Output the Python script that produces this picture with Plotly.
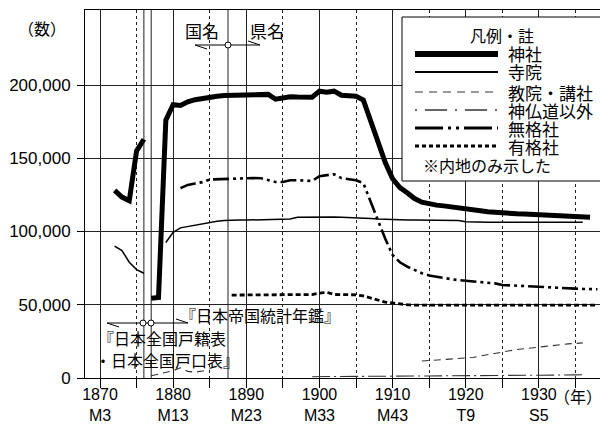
import plotly.graph_objects as go

# ---------------- data ----------------
jinja_years_a = [1872, 1873, 1874, 1875, 1876]
jinja_a = [128000, 123500, 121000, 155000, 163000]

jinja_years_b = list(range(1877, 1938))
jinja_b = [54500, 55000, 176000, 186500, 186000, 188500, 190000, 191000, 191700, 192300,
           192800, 193000, 193300, 193600, 193700, 193800, 193600, 190300, 191500, 192000,
           191800, 191700, 191700, 195800, 195000, 195800, 193000, 192700, 192300, 189800,
           176000, 161000, 147000, 136000, 130000, 126500, 122500, 120000, 118800, 118000,
           117500, 117000, 116500, 116000, 115000, 114200, 113500, 113000, 112600, 112300,
           112100, 111900, 111700, 111500, 111200, 110900, 110600, 110300, 110100, 109900,
           109700]

jiin_years_a = [1872, 1873, 1874, 1875, 1876]
jiin_a = [90000, 87000, 79000, 74000, 71500]

jiin_years_b = list(range(1879, 1937))
jiin_b = [92500, 99500, 102500, 103500, 104000, 105000, 106300, 107000, 107500, 107800,
          107800, 107800, 107900, 108000, 108100, 108200, 108300, 108500, 109800, 109900,
          109900, 109900, 109900, 109900, 109800, 109700, 109600, 109300, 108900, 108600,
          108300, 108100, 107900, 107900, 107800, 107800, 107800, 107700, 107700, 107700,
          107500, 106600, 106400, 106400, 106400, 106400, 106400, 106400, 106400, 106400,
          106400, 106400, 106400, 106400, 106400, 106400, 106400, 106400]

kyoin_years_a = [1877, 1878, 1879, 1880, 1881, 1882, 1883, 1884, 1885]
kyoin_a = [1500, 2500, 3500, 5000, 7000, 4500, 4000, 4800, 5500]

kyoin_years_b = list(range(1914, 1937))
kyoin_b = [11600, 12000, 12300, 12600, 12900, 13200, 13600, 14000, 15000, 16000,
           17000, 17800, 18600, 19400, 20000, 20800, 21400, 22000, 22500, 23000,
           23300, 23600, 24000]

other_years = [1899, 1905, 1910, 1915, 1920, 1925, 1930, 1935, 1936]
other_vals = [900, 1000, 1200, 1400, 1500, 1700, 1900, 2100, 2200]

mukaku_years = list(range(1881, 1939))
mukaku = [129600, 131800, 132800, 133700, 135500, 135700, 136000, 136400, 136500, 136500,
          136500, 136400, 135000, 133800, 133800, 135000, 135000, 134700, 134500, 137800,
          138300, 139100, 136500, 135800, 135000, 133000, 120000, 107500, 95000, 84000,
          79000, 76000, 73500, 71500, 70000, 69000, 68200, 67500, 66800, 66300,
          65800, 65400, 65000, 64600, 63500, 63200, 62900, 62600, 62300, 62000,
          61800, 61600, 61400, 61200, 61000, 60800, 60700, 60600]

yukaku_years = list(range(1888, 1939))
yukaku = [56600, 56600, 56600, 56600, 56600, 56700, 56700, 56700, 56800, 56800,
          56900, 57000, 58000, 58500, 57000, 56800, 56800, 56800, 56000, 54500,
          52800, 51800, 51200, 50500, 50000, 49800, 49800, 49800, 49800, 49800,
          49800, 49800, 49800, 49800, 49800, 49800, 49800, 49800, 49800, 49800,
          49800, 49800, 49800, 49800, 49800, 49800, 49800, 49800, 49800, 49800,
          49800]

x_tickvals = [1870, 1880, 1890, 1900, 1910, 1920, 1930]
x_ticktext = ["1870<br>M3", "1880<br>M13", "1890<br>M23", "1900<br>M33",
              "1910<br>M43", "1920<br>T9", "1930<br>S5"]
y_tickvals = [0, 50000, 100000, 150000, 200000]
y_ticktext = ["0", "50,000", "100,000", "150,000", "200,000"]

legend_labels = ["神社", "寺院", "教院・講社", "神仏道以外", "無格社", "有格社"]

# ---------------- figure ----------------
# page has an 8px body margin: figure occupies screen (8..608, 8..430)
W, H = 600, 422
L, R, T, B = 77, 0, 2, 52
PW, PH = W - L - R, H - T - B
SX0, SY1 = 85, 378  # screen px of plot left / bottom


def px(x):
    return (x - SX0) / PW


def py(y):
    return (SY1 - y) / PH


JP = "Noto Sans CJK JP"
NUM = "Liberation Sans, Arial, " + JP


def seg(xa, ya, xb, yb):
    return list(xa) + [None] + list(xb), list(ya) + [None] + list(yb)


fig = go.Figure()

x, y = seg(jiin_years_a, jiin_a, jiin_years_b, jiin_b)
fig.add_trace(go.Scatter(x=x, y=y, mode="lines", line=dict(color="black", width=1.5),
                         connectgaps=False, showlegend=False))
x, y = seg(kyoin_years_a, kyoin_a, kyoin_years_b, kyoin_b)
fig.add_trace(go.Scatter(x=x, y=y, mode="lines", line=dict(color="#333", width=1.1, dash="7px,5px"),
                         connectgaps=False, showlegend=False))
fig.add_trace(go.Scatter(x=other_years, y=other_vals, mode="lines",
                         line=dict(color="#333", width=1.1, dash="18px,4px,2px,4px"), showlegend=False))
fig.add_trace(go.Scatter(x=yukaku_years, y=yukaku, mode="lines",
                         line=dict(color="black", width=2.8, dash="5px,3px"), showlegend=False))
fig.add_trace(go.Scatter(x=mukaku_years, y=mukaku, mode="lines",
                         line=dict(color="black", width=2.6, dash="16px,4px,3px,4px,3px,4px"), showlegend=False))
x, y = seg(jinja_years_a, jinja_a, jinja_years_b, jinja_b)
fig.add_trace(go.Scatter(x=x, y=y, mode="lines", line=dict(color="black", width=5),
                         connectgaps=False, showlegend=False))

shapes = []
# source boundary vertical lines
for xv in [1876, 1877, 1887.5]:
    shapes.append(dict(type="line", xref="x", yref="paper", x0=xv, x1=xv, y0=0, y1=1,
                       line=dict(color="#222", width=1), layer="between"))


def pline(x0, y0, x1, y1, width=1, color="black", dash=None):
    d = dict(type="line", xref="paper", yref="paper", x0=px(x0), y0=py(y0), x1=px(x1), y1=py(y1),
             line=dict(color=color, width=width), layer="above")
    if dash:
        d["line"]["dash"] = dash
    shapes.append(d)


def pcircle(cx, cy, r=3):
    shapes.append(dict(type="circle", xref="paper", yref="paper",
                       x0=px(cx - r), x1=px(cx + r), y0=py(cy + r), y1=py(cy - r),
                       line=dict(color="black", width=1), fillcolor="white", layer="above"))


# top arrow (国名 / 県名)
pline(195, 45, 260, 45)
pline(195, 45, 207, 49)
pline(260, 45, 248, 41)
pcircle(228, 45)
# bottom arrow
pline(107, 323, 188, 323)
pline(107, 323, 119, 327)
pline(188, 323, 176, 319)
pcircle(143, 323)
pcircle(151, 323)

# legend box
shapes.append(dict(type="rect", xref="paper", yref="paper", x0=px(402), x1=px(603),
                   y0=py(181), y1=py(17), line=dict(color="black", width=1),
                   fillcolor="white", layer="above"))
rows = [54, 72, 92, 110, 128, 146]
styles = [
    dict(width=6, color="black", dash=None),
    dict(width=2, color="black", dash=None),
    dict(width=1.5, color="#777", dash="8px,6px"),
    dict(width=1.3, color="#333", dash="2px,8px,22px,8px"),
    dict(width=3, color="black", dash="28px,5px,3px,5px,3px,5px"),
    dict(width=3, color="black", dash="4px,3px"),
]
for ry, st in zip(rows, styles):
    pline(415, ry, 498, ry, width=st["width"], color=st["color"], dash=st["dash"])

annotations = []


def ptext(text, x, y, size=16, anchor="center", family=JP):
    annotations.append(dict(text=text, xref="paper", yref="paper", x=px(x), y=py(y),
                            xanchor=anchor, yanchor="middle", showarrow=False,
                            font=dict(family=family, size=size, color="black")))


ptext("凡例・註", 502, 35)
for ry, lab in zip(rows, legend_labels):
    ptext(lab, 506, ry, size=17, anchor="left")
ptext("※内地のみ示した", 421, 165, anchor="left")
ptext("（数）", 42, 28)
ptext("国名", 202, 30, size=17)
ptext("県名", 267, 30, size=17)
ptext("『日本帝国統計年鑑』", 178, 315, anchor="left")
ptext("『日本全国戸籍表", 96, 338, anchor="left")
ptext("・日本全国戸口表』", 93, 360, anchor="left")
ptext("（年）", 578, 396)

fig.update_layout(
    width=W, height=H, margin=dict(l=L, r=R, t=T, b=B, pad=0),
    paper_bgcolor="white", plot_bgcolor="white",
    shapes=shapes, annotations=annotations,
    font=dict(family=NUM, size=16, color="black"),
    xaxis=dict(range=[1867.95, 1939.45], tickvals=x_tickvals, ticktext=x_ticktext,
               ticks="outside", ticklen=9, tickcolor="black", tickwidth=1,
               showgrid=True, gridcolor="#222", gridwidth=1,
               showline=True, linecolor="black", linewidth=1, mirror=True, zeroline=False,
               tickfont=dict(family=NUM, size=16), ticklabelstandoff=-7,
               minor=dict(tickvals=[1875, 1885, 1895, 1905, 1915, 1925, 1935], ticks="outside",
                          ticklen=9, tickcolor="black", showgrid=True, gridcolor="#222",
                          griddash="3px,3px", gridwidth=1)),
    yaxis=dict(range=[0, 251200], tickvals=y_tickvals, ticktext=y_ticktext,
               ticks="outside", ticklen=7, tickcolor="black",
               showgrid=True, gridcolor="#222", gridwidth=1,
               showline=True, linecolor="black", linewidth=1, zeroline=False,
               tickfont=dict(family=NUM, size=17), ticklabelstandoff=3),
)

fig.write_html("out.html")
